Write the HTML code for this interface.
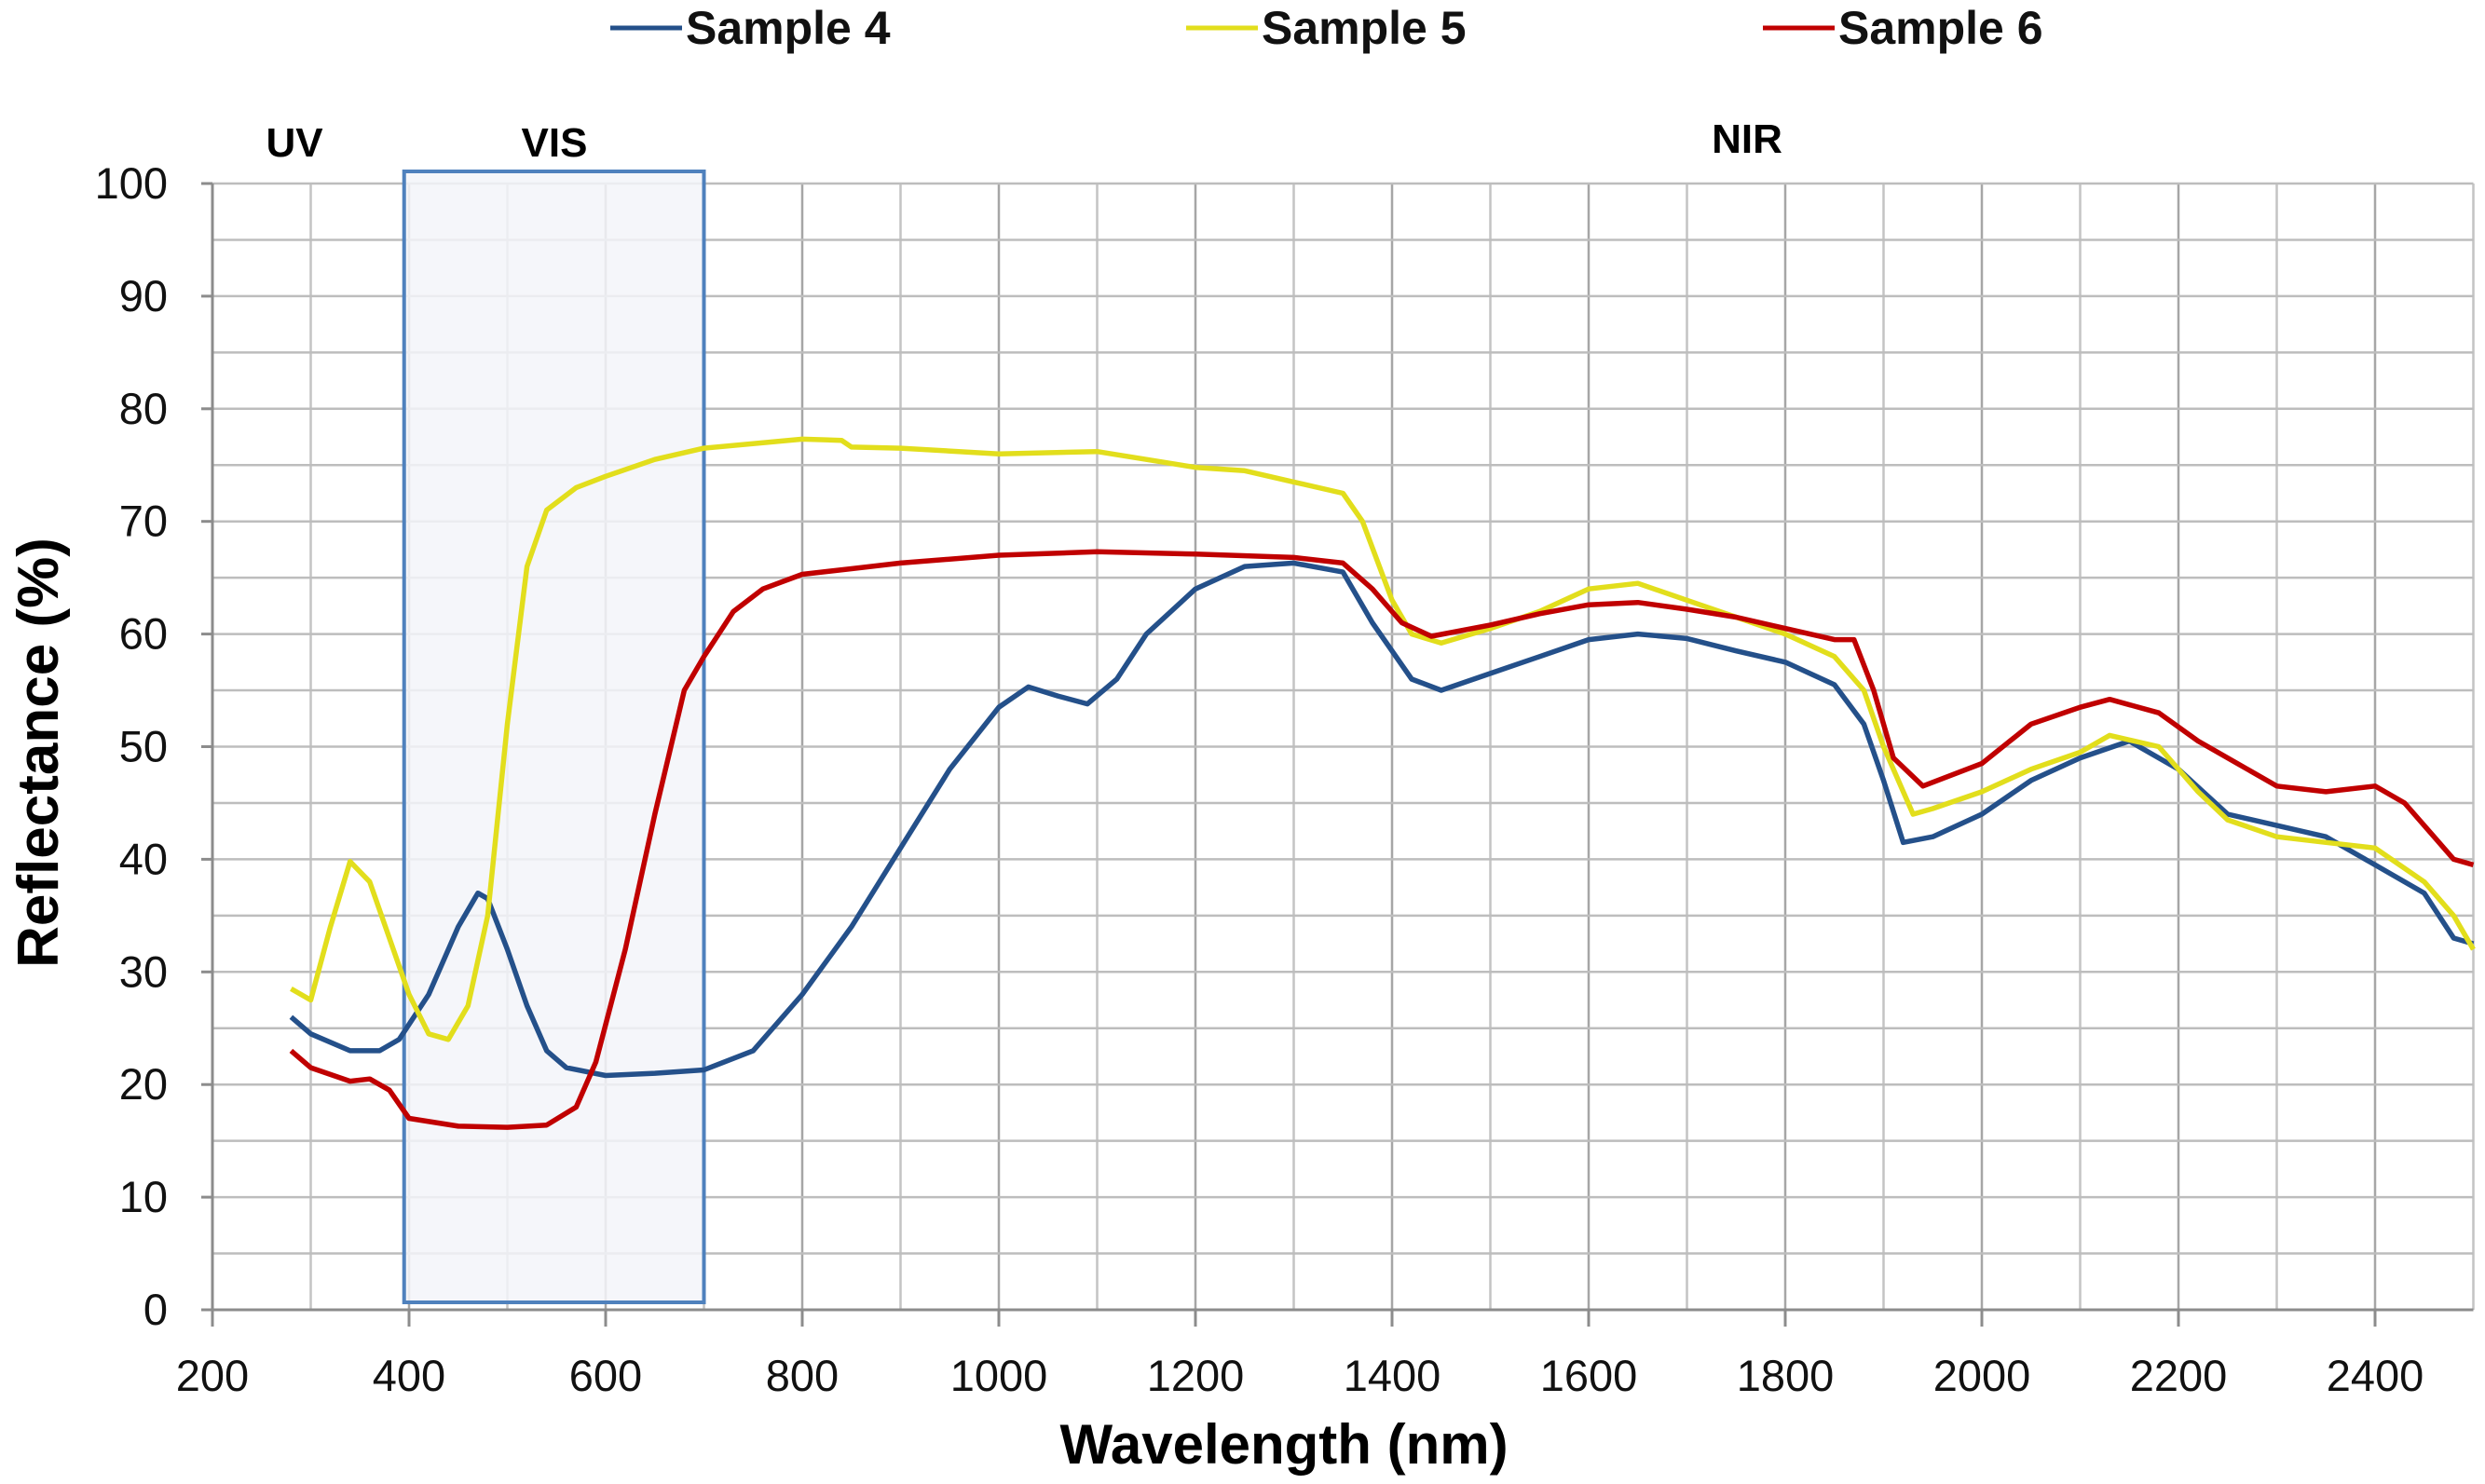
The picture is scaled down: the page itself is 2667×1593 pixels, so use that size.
<!DOCTYPE html>
<html><head><meta charset="utf-8">
<style>
html,body{margin:0;padding:0;background:#fff;}
svg{display:block;font-family:"Liberation Sans",Arial,sans-serif;}
</style></head>
<body>
<svg id="chart" width="2667" height="1593" viewBox="0 0 2667 1593" xmlns="http://www.w3.org/2000/svg">
<g id="grid"></g>
<rect id="visbox" fill="#f3f5f9" fill-opacity="0.85" stroke="#4f81bd" stroke-width="4"/>
<g id="axes"></g>
<g id="series"></g>
<g id="legend"></g>
<text x="316" y="168" font-size="44" font-weight="bold" text-anchor="middle">UV</text>
<text x="595" y="168" font-size="44" font-weight="bold" text-anchor="middle">VIS</text>
<text x="1875" y="164" font-size="44" font-weight="bold" text-anchor="middle">NIR</text>
<text x="1378" y="1571" font-size="60" font-weight="bold" text-anchor="middle">Wavelength (nm)</text>
<text transform="translate(62,808) rotate(-90)" font-size="62" font-weight="bold" text-anchor="middle">Reflectance (%)</text>
</svg>
<script>
const xTicks=[200,400,600,800,1000,1200,1400,1600,1800,2000,2200,2400];
const yTicks=[0,10,20,30,40,50,60,70,80,90,100];
const visRange=[395,700];
const s4x=[280,300,340,370,390,420,450,470,480,500,520,540,560,600,650,700,750,800,850,900,950,1000,1030,1060,1090,1120,1150,1200,1250,1300,1350,1380,1420,1450,1500,1550,1600,1650,1700,1750,1800,1850,1880,1900,1920,1950,2000,2050,2100,2150,2200,2250,2300,2350,2400,2450,2480,2500];
const s4y=[26,24.5,23,23,24,28,34,37,36.5,32,27,23,21.5,20.8,21,21.3,23,28,34,41,48,53.5,55.3,54.5,53.8,56,60,64,66,66.3,65.5,61,56,55,56.5,58,59.5,60,59.6,58.5,57.5,55.5,52,47,41.5,42,44,47,49,50.5,48,44,43,42,39.5,37,33,32.5];
const s5x=[280,300,320,340,360,380,400,420,440,460,480,500,520,540,570,600,650,700,800,840,850,900,1000,1100,1150,1200,1250,1300,1350,1370,1400,1420,1450,1500,1550,1600,1650,1700,1750,1800,1850,1880,1900,1930,1950,2000,2050,2100,2130,2180,2220,2250,2300,2350,2400,2450,2480,2500];
const s5y=[28.5,27.5,34,39.8,38,33,28,24.5,24,27,35,52,66,71,73,74,75.5,76.5,77.3,77.2,76.6,76.5,76,76.2,75.5,74.8,74.5,73.5,72.5,70,63,60,59.2,60.5,62,64,64.5,63,61.5,60,58,55,50,44,44.5,46,48,49.5,51,50,46,43.5,42,41.5,41,38,35,32];
const s6x=[280,300,340,360,380,400,450,500,540,570,590,620,650,680,700,730,760,800,850,900,1000,1100,1200,1300,1350,1380,1410,1440,1500,1550,1600,1650,1700,1750,1800,1850,1870,1890,1910,1940,2000,2050,2100,2130,2180,2220,2260,2300,2350,2400,2430,2460,2480,2500];
const s6y=[23,21.5,20.3,20.5,19.5,17,16.3,16.2,16.4,18,22,32,44,55,58,62,64,65.3,65.8,66.3,67,67.3,67.1,66.8,66.3,64,61,59.8,60.8,61.8,62.6,62.8,62.2,61.5,60.5,59.5,59.5,55,49,46.5,48.5,52,53.5,54.2,53,50.5,48.5,46.5,46,46.5,45,42,40,39.5];
const seriesNames=["Sample 4","Sample 5","Sample 6"];
const NS="http://www.w3.org/2000/svg";
const X=v=>228+(v-200)/200*211;
const Y=v=>1406-v*12.09;
function mk(tag,attrs,parent){const e=document.createElementNS(NS,tag);for(const k in attrs)e.setAttribute(k,attrs[k]);parent.appendChild(e);return e;}
const grid=document.getElementById('grid'),axes=document.getElementById('axes'),ser=document.getElementById('series'),leg=document.getElementById('legend');
for(let v=300;v<=2500;v+=100){const l=mk('line',{x1:X(v),x2:X(v),y1:Y(100),y2:Y(0),stroke:v%200===0?'#a6a6a6':'#c4c4c4','stroke-width':2.5},grid);

}
for(let v=5;v<=100;v+=5){const l=mk('line',{x1:X(200),x2:X(2500),y1:Y(v),y2:Y(v),stroke:'#bdbdbd','stroke-width':2.5},grid);

}
const vb=document.getElementById('visbox');
vb.setAttribute('x',X(visRange[0]));vb.setAttribute('width',X(visRange[1])-X(visRange[0]));
vb.setAttribute('y',184);vb.setAttribute('height',1398-184);
let a=mk('line',{x1:X(200),x2:X(200),y1:Y(100),y2:Y(0),stroke:'#8c8c8c','stroke-width':3},axes);


a=mk('line',{x1:X(200),x2:X(2500),y1:Y(0),y2:Y(0),stroke:'#8c8c8c','stroke-width':3},axes);


xTicks.forEach(v=>{const t=mk('line',{x1:X(v),x2:X(v),y1:Y(0),y2:Y(0)+18,stroke:'#8c8c8c','stroke-width':3},axes);


const tx=mk('text',{x:X(v),y:1493,'font-size':47,'text-anchor':'middle',fill:'#111'},axes);tx.textContent=v;

});
yTicks.forEach(v=>{const t=mk('line',{x1:X(200)-12,x2:X(200),y1:Y(v),y2:Y(v),stroke:'#8c8c8c','stroke-width':3},axes);


const tx=mk('text',{x:180,y:Y(v)+16,'font-size':47,'text-anchor':'end',fill:'#111'},axes);tx.textContent=v;

});
const data=[[s4x,s4y,'#24508a','sample-4-line'],[s5x,s5y,'#e2de1c','sample-5-line'],[s6x,s6y,'#c00000','sample-6-line']];
data.forEach(([xs,ys,c,n])=>{const d=xs.map((x,i)=>(i?'L':'M')+X(x).toFixed(1)+','+Y(ys[i]).toFixed(1)).join(' ');
const p=mk('path',{d:d,fill:'none',stroke:c,'stroke-width':5.5,'stroke-linejoin':'round'},ser);

});
const legX=[655,1273,1892];
seriesNames.forEach((nm,i)=>{const l=mk('line',{x1:legX[i],x2:legX[i]+77,y1:30,y2:30,stroke:data[i][2],'stroke-width':5},leg);


const t=mk('text',{x:legX[i]+81,y:47,'font-size':50,'font-weight':'bold',fill:'#111'},leg);t.textContent=nm;

});
</script>
</body></html>
